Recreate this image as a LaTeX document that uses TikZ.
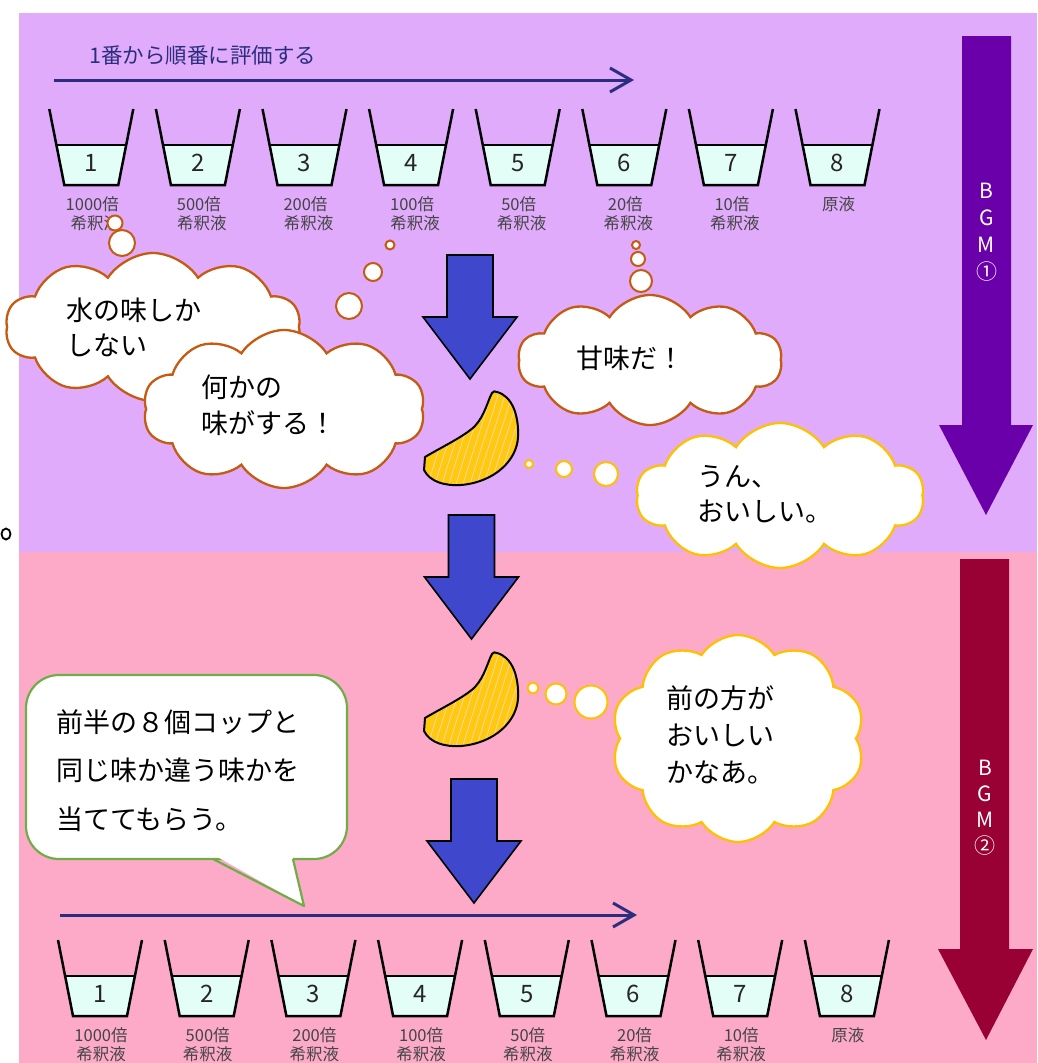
\documentclass[tikz,border=0pt]{standalone}
\usepackage{fontspec}
\setmainfont{Noto Sans CJK JP}
\usetikzlibrary{shapes.symbols,arrows.meta}

\definecolor{bgpurple}{HTML}{E0ABFB}
\definecolor{bgpink}{HTML}{FDAAC8}
\definecolor{navy}{HTML}{2B2D7E}
\definecolor{water}{HTML}{E3FDF7}
\definecolor{labelgray}{HTML}{444444}
\definecolor{downblue}{HTML}{3F48CC}
\definecolor{rust}{HTML}{C55A11}
\definecolor{amber}{HTML}{FFC000}
\definecolor{leafgreen}{HTML}{70AD47}
\definecolor{bgmpurple}{HTML}{6A00AA}
\definecolor{bgmred}{HTML}{990033}
\definecolor{peel}{HTML}{FFC910}
\definecolor{pith}{HTML}{F8D8B8}

\tikzset{
  cupline/.style={line width=2.5pt, black, line join=miter},
  cupnum/.style={font=\fontsize{24}{26}\selectfont, text=black!85, inner sep=0pt},
  cuplabel/.style={font=\fontsize{16.5}{18}\selectfont, text=labelgray, inner sep=0pt},
  flow/.style={navy, line width=3pt, -{Straight Barb[length=21pt,width=24pt]}},
  downfill/.style={fill=downblue, draw=black, line width=1.6pt, line join=miter},
  thought/.style={cloud, cloud puffs=10, cloud puff arc=115, cloud ignores aspect,
    fill=white, line width=2.3pt, inner sep=0pt},
  bubble/.style={circle, fill=white, line width=2pt, inner sep=0pt},
  say/.style={font=\fontsize{27}{35}\selectfont, text=black, align=left, inner sep=0pt},
  bgmtext/.style={font=\fontsize{21}{27}\selectfont, text=white, align=center, inner sep=0pt},
}

% one cup: name, centre x, rim y, number
\newcommand\drawcup[4]{%
  \fill[water] (#2-34.9,#3+36) -- (#2-27,#3+76) -- (#2+27,#3+76) -- (#2+34.9,#3+36) -- cycle;
  \draw[cupline] (#2-42,#3) -- (#2-27,#3+76) -- (#2+27,#3+76) -- (#2+42,#3);
  \draw[cupline] (#2-34.9,#3+36) -- (#2+34.9,#3+36);
  \node[cupnum] (#1) at (#2,#3+54) {#4};
}

% blue arrow pointing down: centre x, top y
\newcommand\downarrowat[2]{%
  \draw[downfill] (#1-23,#2) -- (#1+23,#2) -- (#1+23,#2+62) -- (#1+47,#2+62)
    -- (#1,#2+124) -- (#1-47,#2+62) -- (#1-23,#2+62) -- cycle;
}

% mandarin segment outline
\newcommand\segpath{(497,392) .. controls (512,396) and (519,415) .. (518,437)
  .. controls (517,460) and (495,482) .. (461,485)
  .. controls (445,486) and (430,482) .. (424,470) -- (425,457)
  .. controls (440,448) and (465,436) .. (475,426)
  .. controls (485,415) and (488,400) .. (492,393)
  .. controls (493,391) and (495,391) .. (497,392) -- cycle}

\newcommand\segment[1]{%
  \begin{scope}[shift={(0,#1)}]
    \fill[peel] \segpath;
    \begin{scope}
      \clip \segpath;
      \foreach \k in {0,...,14}{
        \draw[pith, line width=0.7pt] (426+7*\k,492) .. controls (436+7*\k,455) and (446+7*\k,430) .. (458+7*\k,388);
      }
    \end{scope}
    \draw[black, line width=2pt, line join=round] \segpath;
  \end{scope}
}

\begin{document}
\begin{tikzpicture}[x=1pt,y=-1pt]
\useasboundingbox (0,0) rectangle (1037,1063);
\fill[white] (0,0) rectangle (1037,1063);
\fill[bgpurple] (19,13) rectangle (1037,552);
\fill[bgpink] (19,552) rectangle (1037,1063);

% stray full stop at the left margin
\draw[black, line width=1.8pt] (6,534) ellipse [x radius=4.5, y radius=5.5];

% ---------- first round ----------
\node[anchor=west, font=\fontsize{21.5}{24}\selectfont, text=navy, inner sep=0pt] (order) at (89,55) {1番から順番に評価する};
\coordinate (flowAstart) at (54,80);
\coordinate (flowAend) at (634,80);
\draw[flow] (flowAstart) -- (flowAend);

\foreach \i/\la/\lb in {1/1000倍/希釈液, 2/500倍/希釈液, 3/200倍/希釈液, 4/100倍/希釈液,
                        5/50倍/希釈液, 6/20倍/希釈液, 7/10倍/希釈液, 8/原液/}{
  \pgfmathsetmacro\cx{91.3+106.6*(\i-1)}
  \drawcup{cupA\i}{\cx}{109}{\i}
  \node[cuplabel] (cupAla\i) at (\cx+1,204) {\la};
  \node[cuplabel] (cupAlb\i) at (\cx+4,223) {\lb};
}

% ---------- second round ----------
\coordinate (flowBstart) at (60,915);
\coordinate (flowBend) at (637,915);
\draw[flow] (flowBstart) -- (flowBend);

\foreach \i/\la/\lb in {1/1000倍/希釈液, 2/500倍/希釈液, 3/200倍/希釈液, 4/100倍/希釈液,
                        5/50倍/希釈液, 6/20倍/希釈液, 7/10倍/希釈液, 8/原液/}{
  \pgfmathsetmacro\cx{100+106.7*(\i-1)}
  \drawcup{cupB\i}{\cx}{940}{\i}
  \node[cuplabel] (cupBla\i) at (\cx+1,1035) {\la};
  \node[cuplabel] (cupBlb\i) at (\cx+1,1054) {\lb};
}

% ---------- BGM bars ----------
\fill[bgmpurple] (962,36) -- (1011,36) -- (1011,425) -- (1033,425) -- (986,515) -- (939,425) -- (962,425) -- cycle;
\node[bgmtext] (bgmA) at (986.5,232.5) {B\\G\\M\\①};
\fill[bgmred] (960,559) -- (1009,559) -- (1009,949) -- (1033,949) -- (986,1040) -- (938,949) -- (960,949) -- cycle;
\node[bgmtext, font=\fontsize{21}{26}\selectfont] (bgmB) at (985,808) {B\\G\\M\\②};

% ---------- blue arrows and segments ----------
\downarrowat{470}{255}
\downarrowat{471.5}{515}
\downarrowat{474}{779}
\segment{0}
\segment{261}

% ---------- thoughts ----------
\node[bubble, draw=rust, minimum size=15pt] (tA1) at (115,223) {};
\node[bubble, draw=rust, minimum size=26pt] (tA2) at (122,243) {};
\node[thought, draw=rust, minimum width=295pt, minimum height=148pt] (cloudA) at (153,327) {};
\node[say, anchor=west] (sayA) at (66,327.5) {水の味しか\\しない};

\node[bubble, draw=rust, minimum size=9pt] (tB1) at (390,245) {};
\node[bubble, draw=rust, minimum size=18pt] (tB2) at (373,272) {};
\node[bubble, draw=rust, minimum size=26pt] (tB3) at (349,306) {};
\node[thought, draw=rust, minimum width=282pt, minimum height=158pt] (cloudB) at (284,409) {};
\node[say, anchor=west, font=\fontsize{27}{36}\selectfont] (sayB) at (201,405) {何かの\\味がする！};

\node[bubble, draw=rust, minimum size=8pt] (tC1) at (636,245) {};
\node[bubble, draw=rust, minimum size=14pt] (tC2) at (638,259) {};
\node[bubble, draw=rust, minimum size=22pt] (tC3) at (641,281) {};
\node[thought, draw=rust, minimum width=264pt, minimum height=130pt] (cloudC) at (650,360) {};
\node[say] (sayC) at (630,358) {甘味だ！};

\node[bubble, draw=amber, minimum size=8pt] (tD1) at (529,464) {};
\node[bubble, draw=amber, minimum size=16pt] (tD2) at (564,469) {};
\node[bubble, draw=amber, minimum size=24pt] (tD3) at (606,474) {};
\node[thought, draw=amber, minimum width=288pt, minimum height=145pt] (cloudD) at (780,495.5) {};
\node[say, anchor=west] (sayD) at (697,494.5) {うん、\\おいしい。};

\node[bubble, draw=amber, minimum size=11pt] (tE1) at (533,688) {};
\node[bubble, draw=amber, minimum size=21pt] (tE2) at (556,694) {};
\node[bubble, draw=amber, minimum size=33pt] (tE3) at (591,702) {};
\node[thought, draw=amber, minimum width=254pt, minimum height=207pt] (cloudE) at (738,738.5) {};
\node[say, anchor=west, font=\fontsize{27}{37}\selectfont] (sayE) at (666,735) {前の方が\\おいしい\\かなあ。};

% ---------- instruction callout ----------
\node[draw=leafgreen, fill=white, line width=2.2pt, rounded corners=33pt,
      minimum width=321pt, minimum height=184pt] (note) at (186.5,767) {};
\fill[white] (214,855) -- (292,855) -- (304,906) -- cycle;
\draw[leafgreen, line width=2.2pt, line join=round] (213,859) -- (304,906) -- (293,859);
\node[say, anchor=west, font=\fontsize{27}{48.5}\selectfont] (sayNote) at (56,770.5)
  {前半の８個コップと\\同じ味か違う味かを\\当ててもらう。};
\end{tikzpicture}
\end{document}
